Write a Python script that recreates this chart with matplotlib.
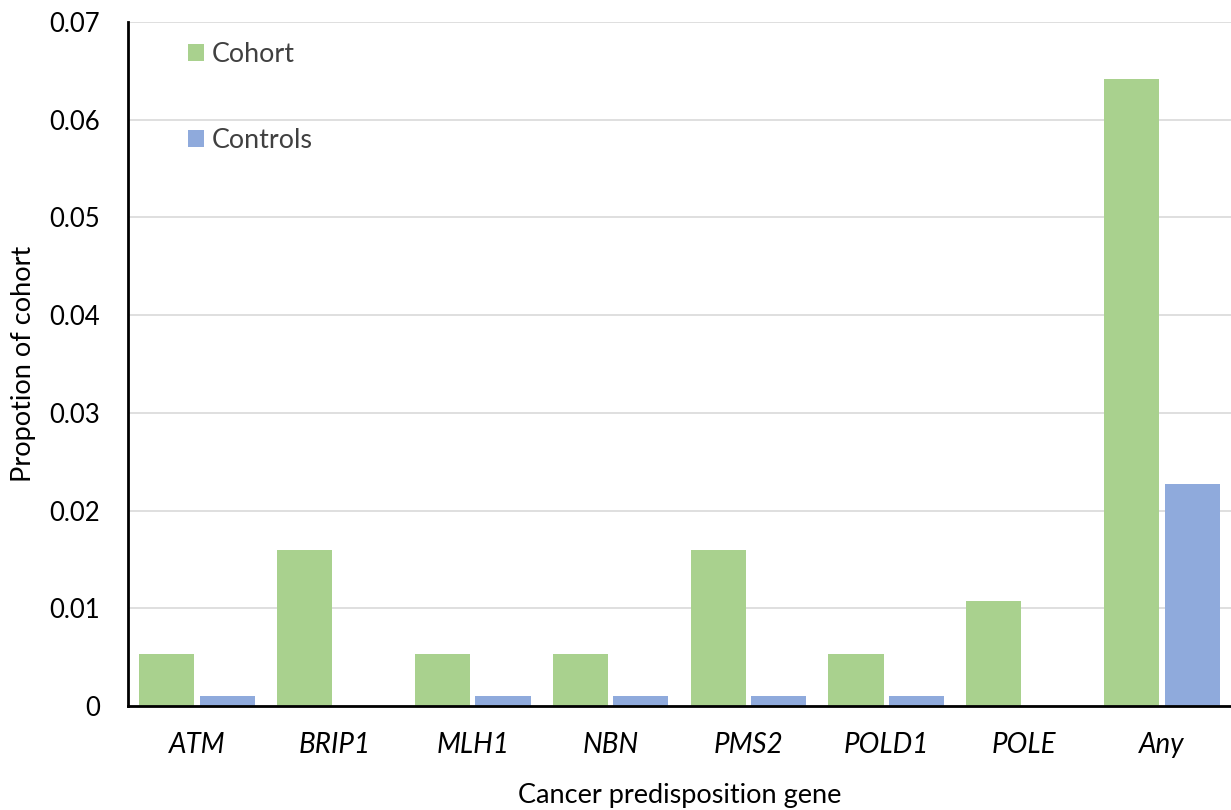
import matplotlib
matplotlib.use("Agg")
import matplotlib.pyplot as plt
import numpy as np

genes = ["ATM", "BRIP1", "MLH1", "NBN", "PMS2", "POLD1", "POLE", "Any"]
cohort = [0.00535, 0.0160, 0.00535, 0.00535, 0.0160, 0.00535, 0.0107, 0.0642]
controls = [0.001, 0.0, 0.001, 0.001, 0.001, 0.001, 0.0, 0.0227]
yticks = [0, 0.01, 0.02, 0.03, 0.04, 0.05, 0.06, 0.07]
ytick_labels = ["0", "0.01", "0.02", "0.03", "0.04", "0.05", "0.06", "0.07"]

plt.rcParams['font.family'] = ['Lato', 'DejaVu Sans']

fig = plt.figure(figsize=(12.31, 8.10), dpi=100)
ax = fig.add_axes([128/1231, 1-706/810, 1-128/1231, (706-22)/810])

x = np.arange(len(genes))
w = 0.40
ax.bar(x - 0.22, cohort, width=w, color="#A9D18E", label="Cohort", zorder=3)
ax.bar(x + 0.22, controls, width=w, color="#8FAADC", label="Controls", zorder=3)

ax.set_xlim(-0.5, len(genes) - 0.5)
ax.set_ylim(0, 0.07)
ax.set_yticks(yticks)
ax.set_yticklabels(ytick_labels, fontsize=18.5)
ax.set_xticks(x)
ax.set_xticklabels(genes, fontsize=20, style="italic")
ax.tick_params(axis="both", length=0)
ax.tick_params(axis="x", pad=19)
ax.tick_params(axis="y", pad=20)
ax.grid(axis="y", color="#d9d9d9", linewidth=1.2, zorder=0)
for s in ["top", "right"]:
    ax.spines[s].set_visible(False)
ax.spines["left"].set_linewidth(2)
ax.spines["bottom"].set_linewidth(2)
ax.spines["left"].set_zorder(4)
ax.spines["bottom"].set_zorder(4)

ax.set_ylabel("Propotion of cohort", fontsize=19.5, labelpad=10)
ax.set_xlabel("Cancer predisposition gene", fontsize=19.5, labelpad=18)

ax.legend(loc="upper left", bbox_to_anchor=(0.054, 0.971), frameon=False,
          borderpad=0, borderaxespad=0,
          fontsize=19.4, labelspacing=2.28, handlelength=0.6, handleheight=0.6,
          handletextpad=0.3, labelcolor="#404040")

fig.savefig("out.png", dpi=100)
